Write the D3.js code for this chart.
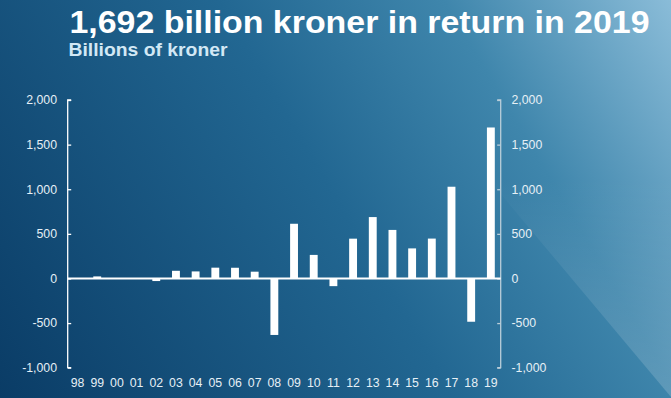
<!DOCTYPE html>
<html>
<head>
<meta charset="utf-8">
<script src="https://cdn.jsdelivr.net/npm/d3@7"></script>
<style>
  body { margin: 0; padding: 0; overflow: hidden; }
  svg { display: block; font-family: "Liberation Sans", Arial, sans-serif; }
</style>
</head>
<body>
<svg id="svg0"></svg>
<script>
// data
let years = ['98','99','00','01','02','03','04','05','06','07','08','09','10','11','12','13','14','15','16','17','18','19'];
let returns = [0, 23, 0, -2, -29, 86, 79, 121, 120, 76, -633, 613, 264, -86, 446, 688, 544, 337, 447, 1028, -485, 1692];
let yTicks = [-1000, -500, 0, 500, 1000, 1500, 2000];
let title = '1,692 billion kroner in return in 2019';
let subtitle = 'Billions of kroner';

let width = 671, height = 398;
let plotLeft = 67.7, plotRight = 500.7, plotTop = 100, plotBottom = 367.7;

let svg = d3.select('#svg0').attr('width', width).attr('height', height);
let fmt = d => d3.format(',')(d).replace('\u2212', '-');

// background gradient
let defs = svg.append('defs');
let bg = defs.append('linearGradient').attr('id', 'bg')
    .attr('gradientUnits', 'userSpaceOnUse')
    .attr('x1', 0).attr('y1', 398).attr('x2', 671).attr('y2', 0);
bg.append('stop').attr('offset', '0%').attr('stop-color', '#0a3c66');
bg.append('stop').attr('offset', '50%').attr('stop-color', '#226792');
bg.append('stop').attr('offset', '75%').attr('stop-color', '#3f86ac');
bg.append('stop').attr('offset', '100%').attr('stop-color', '#8abcd8');

let sheen = defs.append('linearGradient').attr('id', 'sheen')
    .attr('x1', 0).attr('y1', 0).attr('x2', 0).attr('y2', 1);
sheen.append('stop').attr('offset', '0%').attr('stop-color', '#fff').attr('stop-opacity', 0);
sheen.append('stop').attr('offset', '45%').attr('stop-color', '#fff').attr('stop-opacity', 0);
sheen.append('stop').attr('offset', '100%').attr('stop-color', '#fff').attr('stop-opacity', 0.17);

svg.append('rect').attr('width', width).attr('height', height).style('fill', 'url(#bg)');
svg.append('polygon').attr('points', '338,0 671,0 671,397').style('fill', 'url(#sheen)');

// scales
let xScale = d3.scaleBand().domain(years).range([plotLeft, plotRight]).paddingInner(0.6).paddingOuter(0.3);
let yScale = d3.scaleLinear().domain([-1000, 2000]).range([plotBottom, plotTop]);

// left axis
let gl = svg.append('g').attr('transform', 'translate(' + plotLeft + ',0)')
    .call(d3.axisRight(yScale).tickValues(yTicks).tickSize(3.5).tickFormat(''));
gl.selectAll('line, path').style('stroke', '#ffffff').style('stroke-width', 1.3);
gl.select('.domain').attr('d', 'M3.5,' + plotTop + 'H0V' + plotBottom + 'H3.5');

svg.selectAll('.ylabL').data(yTicks).enter().append('text')
    .attr('class', 'ylabL')
    .attr('x', 57).attr('y', d => yScale(d))
    .attr('dy', '0.35em')
    .style('text-anchor', 'end').style('font-size', '12.3px').style('fill', '#e6f0f6')
    .text(fmt);

// right axis
let gr = svg.append('g').attr('transform', 'translate(' + plotRight + ',0)')
    .call(d3.axisLeft(yScale).tickValues(yTicks).tickSize(3.5).tickFormat(''));
gr.selectAll('line, path').style('stroke', '#b9cdd9').style('stroke-width', 1.3);
gr.select('.domain').attr('d', 'M-3.5,' + plotTop + 'H0V' + plotBottom + 'H-3.5');

svg.selectAll('.ylabR').data(yTicks).enter().append('text')
    .attr('class', 'ylabR')
    .attr('x', 511.5).attr('y', d => yScale(d))
    .attr('dy', '0.35em')
    .style('text-anchor', 'start').style('font-size', '12.3px').style('fill', '#e6f0f6')
    .text(fmt);

// bars
svg.selectAll('.bar').data(returns).enter().append('rect')
    .attr('class', 'bar')
    .attr('x', (d, i) => xScale(years[i]))
    .attr('width', xScale.bandwidth())
    .attr('y', d => yScale(Math.max(0, d)))
    .attr('height', d => Math.abs(yScale(d) - yScale(0)))
    .style('fill', '#ffffff');

// zero line
svg.append('line')
    .attr('x1', plotLeft).attr('x2', plotRight)
    .attr('y1', yScale(0)).attr('y2', yScale(0))
    .style('stroke', '#ffffff').style('stroke-width', 2);

// x labels
svg.selectAll('.xlab').data(years).enter().append('text')
    .attr('class', 'xlab')
    .attr('x', d => xScale(d) + xScale.bandwidth() / 2)
    .attr('y', 387)
    .style('text-anchor', 'middle').style('font-size', '12.3px').style('fill', '#e6f0f6')
    .text(d => d);

// titles
svg.append('text')
    .attr('x', 69.5).attr('y', 32.5)
    .attr('textLength', 580).attr('lengthAdjust', 'spacingAndGlyphs')
    .style('font-size', '31.5px').style('font-weight', 'bold').style('fill', '#ffffff')
    .text(title);

svg.append('text')
    .attr('x', 68.5).attr('y', 56)
    .attr('textLength', 159).attr('lengthAdjust', 'spacingAndGlyphs')
    .style('font-size', '19px').style('font-weight', 'bold').style('fill', '#d2e8f5')
    .text(subtitle);
</script>
</body>
</html>
